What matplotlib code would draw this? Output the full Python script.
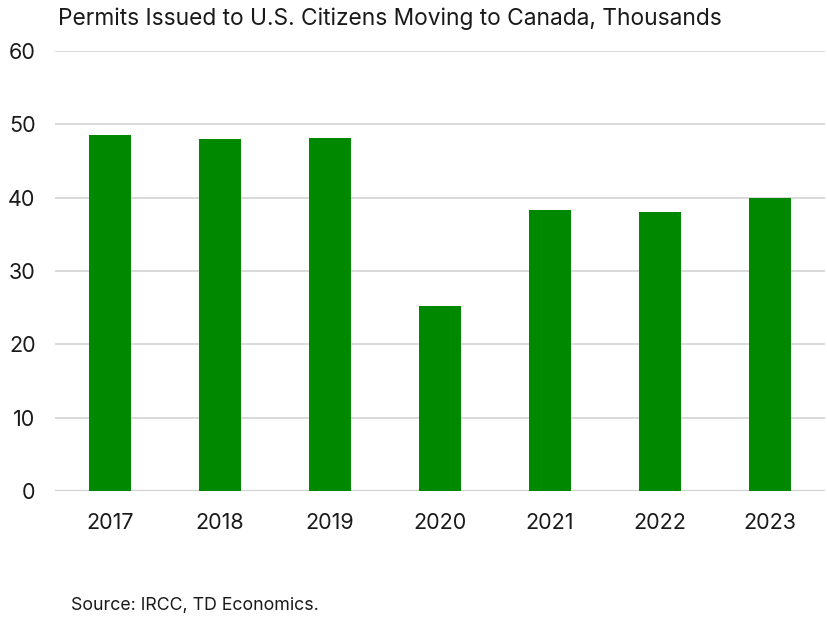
import matplotlib.pyplot as plt
import numpy as np

years = ["2017", "2018", "2019", "2020", "2021", "2022", "2023"]
permits = [48.6, 48.0, 48.2, 25.2, 38.3, 38.1, 40.0]
yticks = [0, 10, 20, 30, 40, 50, 60]

plt.rcParams['font.family'] = ['Inter', 'DejaVu Sans']

fig = plt.figure(figsize=(8.27, 6.17), dpi=100)
ax = fig.add_axes([0.0665, 0.2042, 0.931, 0.7131])

x = np.arange(len(years))
ax.bar(x, permits, width=0.38, color='#008800', zorder=3)

ax.set_xlim(-0.5, len(years) - 0.5)
ax.set_ylim(0, 60)
ax.set_yticks(yticks)
ax.set_xticks(x)
ax.set_xticklabels(years)
ax.yaxis.grid(True, color='#d9d9d9', linewidth=1.4, zorder=0)
ax.axhline(0, color='#d0d0d0', linewidth=1.6, zorder=2)
for s in ax.spines.values():
    s.set_visible(False)
ax.tick_params(axis='both', length=0, labelsize=15.5, colors='#1a1a1a')
ax.tick_params(axis='y', pad=14)
ax.tick_params(axis='x', pad=16)

fig.text(0.070, 0.970, "Permits Issued to U.S. Citizens Moving to Canada, Thousands",
         fontsize=16.4, color='#1a1a1a', va='center', ha='left')
fig.text(0.086, 0.018, "Source: IRCC, TD Economics.", fontsize=12.8,
         color='#1a1a1a', va='center', ha='left')

fig.savefig("out.png", dpi=100)
